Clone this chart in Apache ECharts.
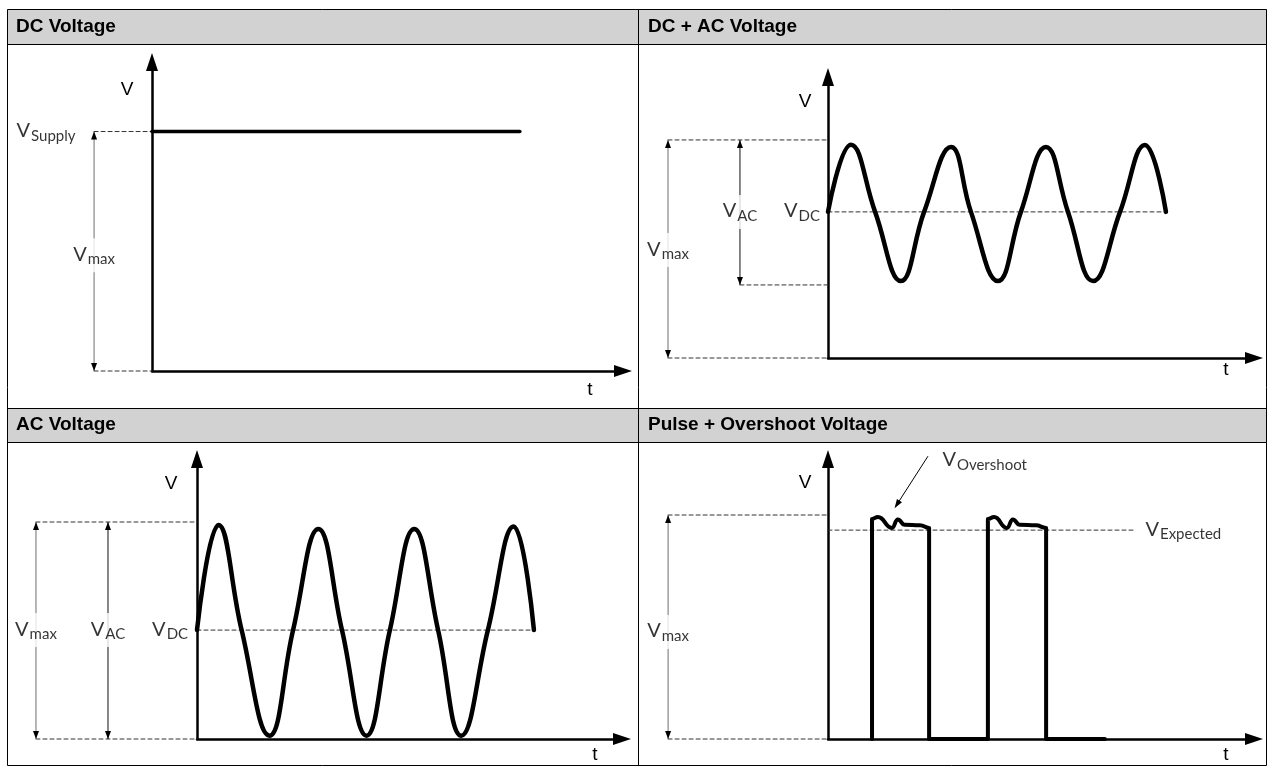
<!DOCTYPE html>
<html>
<head>
<meta charset="UTF-8">
<title>Voltage waveforms</title>
<style>
  * {margin: 0; padding: 0;}
  body {background: #fff;}
  #chart {width: 1271px; height: 768px;}
</style>
</head>
<body>
<div id="chart"></div>
<script src="https://cdn.jsdelivr.net/npm/echarts@6/dist/echarts.min.js"></script>
<script>
// ---- data (t and V in arbitrary units) ----
var titles = ['DC Voltage', 'DC + AC Voltage', 'AC Voltage', 'Pulse + Overshoot Voltage'];

// DC Voltage
var dcSupply = 7.75;
var dcTrace = [[0, 7.75], [7.81, 7.75]];

// DC + AC Voltage: start, peaks, crossings, troughs
var dcacMax = 7.76, dcacDC = 5.2, dcacMin = 2.6;
var dcacWave = [[0, 5.2], [0.97, 7.59], [1.99, 5.2], [3.08, 2.74], [4.06, 5.2], [5.2, 7.51],
                [6.04, 5.2], [7.18, 2.74], [8.15, 5.2], [9.21, 7.51], [10.14, 5.2], [11.2, 2.74],
                [12.34, 5.2], [13.39, 7.58], [14.28, 5.2]];

// AC Voltage
var acMax = 7.75, acDC = 3.89;
var acWave = [[0, 3.89], [0.91, 7.64], [1.89, 3.89], [3.07, 0.12], [4.07, 3.89], [5.14, 7.5],
              [6.14, 3.89], [7.18, 0.12], [8.17, 3.89], [9.2, 7.5], [10.21, 3.89], [11.19, 0.12],
              [12.32, 3.89], [13.41, 7.59], [14.27, 3.89]];

// Pulse + Overshoot Voltage
var pulseMax = 8.0, pulseExpected = 7.46;
var pulseWave = [[1.55, 0], [1.55, 7.86], [1.76, 7.93], [2.25, 7.54], [2.46, 7.84], [2.7, 7.65],
                 [3.24, 7.63], [3.56, 7.54], [3.56, 0], [5.63, 0], [5.63, 7.86], [5.85, 7.93],
                 [6.3, 7.54], [6.51, 7.84], [6.75, 7.65], [7.32, 7.63], [7.68, 7.54], [7.68, 0],
                 [9.75, 0]];
var pulseEnd = 10.74;

// ---- layout ----
// plot grids (0-3) and, to their left, annotation grids (4-7) on the same V scale
var grids = [
  {left: 152, top: 62, width: 471, height: 309},
  {left: 828, top: 77, width: 426, height: 281},
  {left: 197, top: 459, width: 425, height: 280},
  {left: 828, top: 459, width: 426, height: 280}
];
var xMax = [10, 18, 18, 15];
var noteLeft = [8, 640, 8, 640];

var noteGrids = grids.map(function (g, i) {
  return {left: noteLeft[i], top: g.top, width: g.left - noteLeft[i], height: g.height};
});
var noteMin = grids.map(function (g, i) {
  return -(g.left - noteLeft[i]) / (g.width / xMax[i]);
});

var chart = echarts.init(document.getElementById('chart'));

function axisLine() {
  return {show: true, onZero: false, symbol: ['none', 'triangle'], symbolSize: [12, 18],
          lineStyle: {color: '#000', width: 2.5}};
}

function seg(g, pts, color, width, dashed) {
  return {type: 'line', xAxisIndex: g, yAxisIndex: g, data: pts, clip: false, silent: true,
          symbol: 'none', z: dashed ? 2 : 3,
          lineStyle: {color: color, width: width, type: dashed ? [4, 3] : 'solid', cap: 'round', join: 'round'}};
}

function dashLine(g, y, x0, x1) {
  return seg(g, [[x0, y], [x1, y]], '#333', 1, true);
}

function dblArrow(g, x, yTop, yBot, color) {
  return {type: 'line', xAxisIndex: g, yAxisIndex: g, clip: false, silent: true, z: 2,
          symbol: 'triangle', symbolSize: [6, 8], showSymbol: true,
          itemStyle: {color: '#000'}, lineStyle: {color: color, width: 1},
          data: [{value: [x, yTop], symbolOffset: [0, '50%']},
                 {value: [x, yBot], symbolRotate: 180, symbolOffset: [0, '-50%']}]};
}

var rich = {
  v: {fontFamily: 'Lato', fontSize: 20, lineHeight: 22, verticalAlign: 'top', color: '#000'},
  s: {fontFamily: 'Lato', fontSize: 15, lineHeight: 15, padding: [8, 0, 0, 1], verticalAlign: 'top', color: '#000'}
};

function label(g, x, y, sub, opt) {
  opt = opt || {};
  return {type: 'scatter', xAxisIndex: g, yAxisIndex: g, clip: false, silent: true, z: 6,
          symbolSize: 1, itemStyle: {color: 'rgba(0,0,0,0)'}, data: [[x, y]],
          label: {show: true, position: opt.left ? 'right' : 'inside', distance: 0,
                  formatter: '{v|V}{s|' + sub + '}', rich: rich,
                  backgroundColor: opt.bg ? '#fff' : 'transparent', padding: opt.bg ? [6, 2] : 0}};
}

var gray = '#6e6e6e';
var series = [];

// DC Voltage (plot 0, notes 4)
series.push(dashLine(4, dcSupply, -1.23, 0), dashLine(4, 0, -1.23, 0));
series.push(dblArrow(4, -1.23, dcSupply, 0, gray));
series.push(seg(0, dcTrace, '#000', 3.5, false));
series.push(label(4, -2.25, dcSupply, 'Supply'), label(4, -1.23, 3.75, 'max', {bg: true}));

// DC + AC Voltage (plot 1, notes 5)
series.push(dashLine(5, dcacMax, -6.76, 0), dashLine(5, 0, -6.76, 0), dashLine(5, dcacMin, -3.72, 0),
            dashLine(1, dcacDC, 0, dcacWave[dcacWave.length - 1][0]));
series.push(dblArrow(5, -6.76, dcacMax, 0, gray), dblArrow(5, -3.72, dcacMax, dcacMin, '#111'));
var w1 = seg(1, dcacWave, '#000', 4.5, false); w1.smooth = 0.45;
series.push(w1);
series.push(label(5, -6.76, 3.84, 'max', {bg: true}), label(5, -3.72, dcacDC, 'AC', {bg: true}),
            label(5, -1.1, dcacDC, 'DC'));

// AC Voltage (plot 2, notes 6)
series.push(dashLine(6, acMax, -6.82, 0), dashLine(6, 0, -6.82, 0),
            dashLine(2, acDC, 0, acWave[acWave.length - 1][0]));
series.push(dblArrow(6, -6.82, acMax, 0, gray), dblArrow(6, -3.77, acMax, 0, '#111'));
var w2 = seg(2, acWave, '#000', 4.5, false); w2.smooth = 0.45;
series.push(w2);
series.push(label(6, -6.82, acDC, 'max', {bg: true}), label(6, -3.77, acDC, 'AC', {bg: true}),
            label(6, -1.14, acDC, 'DC'));

// Pulse + Overshoot Voltage (plot 3, notes 7)
series.push(dashLine(7, pulseMax, -5.63, 0), dashLine(7, 0, -5.63, 0), dashLine(3, pulseExpected, 0, pulseEnd));
series.push(dblArrow(7, -5.63, pulseMax, 0, gray));
var w3 = seg(3, pulseWave, '#000', 4, false); w3.smooth = 0.5; w3.smoothMonotone = 'x';
series.push(w3);
series.push({type: 'line', xAxisIndex: 3, yAxisIndex: 3, clip: false, silent: true, z: 4,
             symbol: 'none', symbolSize: [6, 9], lineStyle: {color: '#000', width: 1}, itemStyle: {color: '#000'},
             data: [[3.52, 10.1], {value: [2.43, 8.38], symbol: 'triangle', symbolRotate: 147}]});
series.push(label(7, -5.63, 3.82, 'max', {bg: true}), label(3, 11.16, pulseExpected, 'Expected', {left: true}),
            label(3, 4.01, 9.95, 'Overshoot', {left: true}));

// ---- frame, headers and axis letters ----
var headFont = {fontFamily: '"Liberation Sans", Arial, sans-serif', fontSize: 19, fontWeight: 'bold', fill: '#000'};
var letterFont = {fontFamily: '"Liberation Sans Narrow", "Liberation Sans", sans-serif', fontSize: 19, fill: '#000'};
function text(x, y, str, font) {
  return {type: 'text', x: x, y: y, z: 10,
          style: Object.assign({text: str, align: 'left', verticalAlign: 'middle'}, font)};
}
function letter(x, y, str) {
  var t = text(x, y, str, letterFont);
  t.style.align = 'center';
  return t;
}
var stroke = {stroke: '#000', lineWidth: 1};
var graphic = [
  {type: 'rect', shape: {x: 7, y: 9, width: 1260, height: 35}, style: {fill: '#d2d2d2'}},
  {type: 'rect', shape: {x: 7, y: 408, width: 1260, height: 34}, style: {fill: '#d2d2d2'}},
  {type: 'rect', shape: {x: 7.5, y: 9.5, width: 1259, height: 756}, style: {fill: 'none', stroke: '#000', lineWidth: 1}},
  {type: 'line', shape: {x1: 638.5, y1: 9, x2: 638.5, y2: 766}, style: stroke},
  {type: 'line', shape: {x1: 7, y1: 44.5, x2: 1267, y2: 44.5}, style: stroke},
  {type: 'line', shape: {x1: 7, y1: 408.5, x2: 1267, y2: 408.5}, style: stroke},
  {type: 'line', shape: {x1: 7, y1: 442.5, x2: 1267, y2: 442.5}, style: stroke},
  text(16, 27, titles[0], headFont),
  text(648, 27, titles[1], headFont),
  text(16, 425, titles[2], headFont),
  text(648, 425, titles[3], headFont),
  letter(127, 90, 'V'), letter(590, 390, 't'),
  letter(805, 102, 'V'), letter(1226, 370, 't'),
  letter(171, 484, 'V'), letter(595, 755, 't'),
  letter(805, 483, 'V'), letter(1226, 755, 't')
];

var hidden = {show: false};
var option = {
  animation: false,
  backgroundColor: '#fff',
  graphic: graphic,
  grid: grids.concat(noteGrids).map(function (g) {
    return Object.assign({containLabel: false, outerBoundsMode: 'none'}, g);
  }),
  xAxis: grids.map(function (g, i) {
    return {type: 'value', gridIndex: i, min: 0, max: xMax[i], axisLine: axisLine(),
            axisTick: hidden, axisLabel: hidden, splitLine: hidden};
  }).concat(noteGrids.map(function (g, i) {
    return {type: 'value', gridIndex: i + 4, min: noteMin[i], max: 0, show: false};
  })),
  yAxis: grids.map(function (g, i) {
    return {type: 'value', gridIndex: i, min: 0, max: 10, axisLine: axisLine(),
            axisTick: hidden, axisLabel: hidden, splitLine: hidden};
  }).concat(noteGrids.map(function (g, i) {
    return {type: 'value', gridIndex: i + 4, min: 0, max: 10, show: false};
  })),
  series: series
};

chart.setOption(option);
</script>
</body>
</html>
